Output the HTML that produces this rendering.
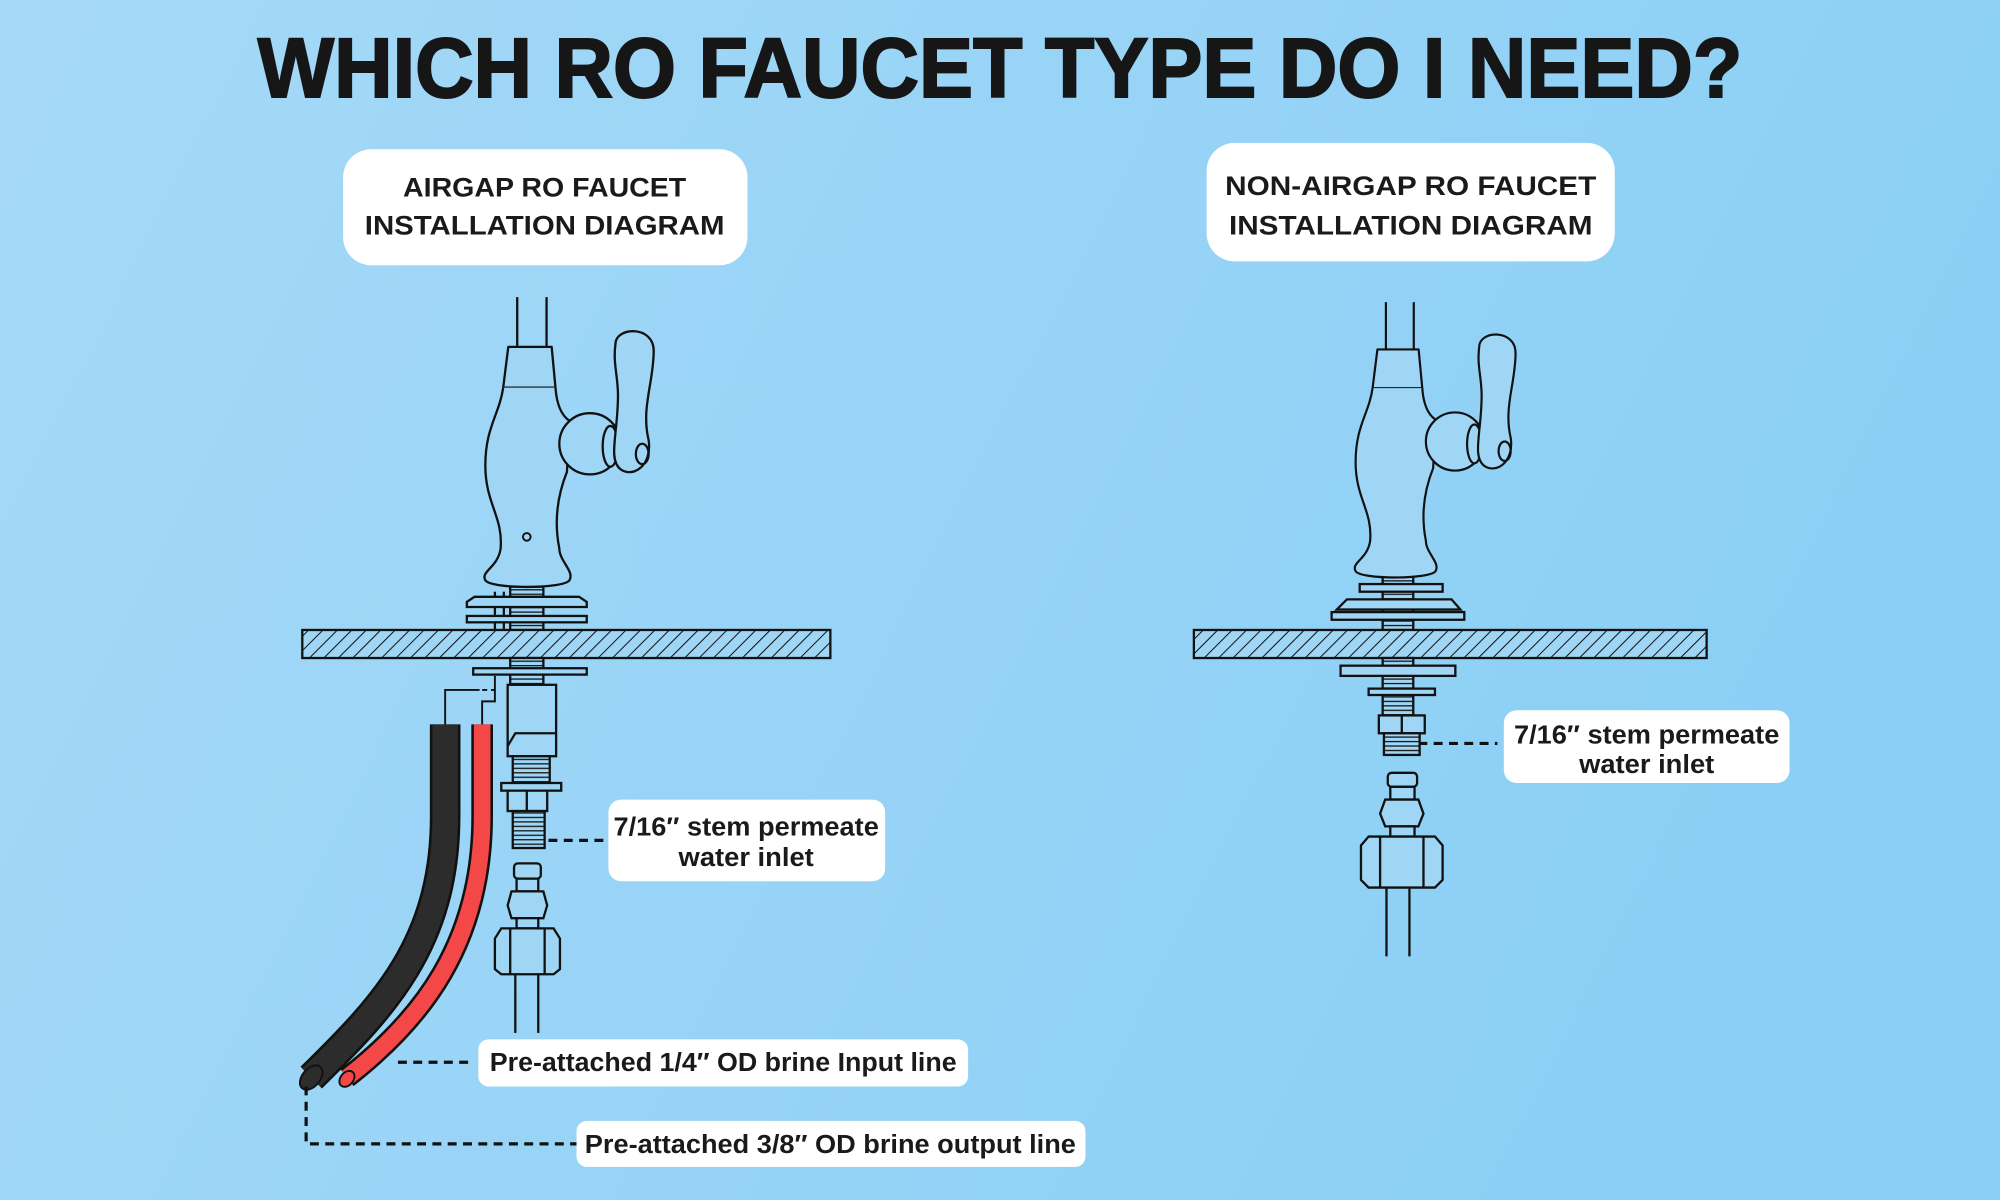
<!DOCTYPE html>
<html><head><meta charset="utf-8"><style>
html,body{margin:0;padding:0;width:2000px;height:1200px;overflow:hidden}
svg{display:block}
text{font-family:"Liberation Sans",sans-serif;fill:#1a1a1a}
</style></head><body>
<svg width="2000" height="1200" viewBox="0 0 1568 941" preserveAspectRatio="none" xmlns="http://www.w3.org/2000/svg">
<defs>
<linearGradient id="bg" x1="0" y1="0" x2="1" y2="0.3">
<stop offset="0" stop-color="#a6d9f7"/><stop offset="1" stop-color="#8bcff6"/></linearGradient>
<pattern id="hatch" width="8" height="8" patternUnits="userSpaceOnUse" patternTransform="rotate(45)">
<rect width="8" height="8" fill="#9fd6f5"/><line x1="0" y1="0" x2="0" y2="8" stroke="#111" stroke-width="1.6"/></pattern>
<pattern id="thr" width="4" height="3.5" patternUnits="userSpaceOnUse">
<rect width="4" height="3.5" fill="#9fd6f5"/><line x1="0" y1="0.5" x2="4" y2="0.5" stroke="#111" stroke-width="1"/></pattern>
<g id="top" fill="none" stroke="#111" stroke-width="1.8" stroke-linejoin="round">
<line x1="-11" y1="233" x2="-11" y2="272"/><line x1="12" y1="233" x2="12" y2="272"/>
<path d="M-18,272 L16,272 L19,304 L-22,304 Z" fill="#9fd6f5"/>
<path d="M-22,304 C-25,325 -36,335 -36,365 C-36,395 -22,405 -24,430 C-26,445 -40,448 -36,455 C-32,462 25,462 30,455 C34,448 22,440 22,430 C18,410 20,390 28,370 L30,330 C24,326 20,318 19,304" fill="#9fd6f5"/>
<circle cx="46" cy="348" r="24" fill="#9fd6f5"/>
<ellipse cx="62" cy="350" rx="6" ry="16" fill="#9fd6f5"/>
<path d="M66,270 C66,256 96,255 96,275 C96,300 86,320 92,345 C95,365 80,375 70,368 C60,360 68,340 68,310 C68,295 64,285 66,270 Z" fill="#9fd6f5"/>
<ellipse cx="87" cy="356" rx="5" ry="8"/>
</g>
</defs>
<rect width="1568" height="941" fill="url(#bg)"/>

<text x="784" y="76" text-anchor="middle" font-size="66" font-weight="bold" textLength="1164" lengthAdjust="spacingAndGlyphs" style="fill:#161616;stroke:#161616;stroke-width:1.5">WHICH RO FAUCET TYPE DO I NEED?</text>

<rect x="269" y="117" width="317" height="91" rx="22" fill="#fff"/>
<text x="427" y="154" text-anchor="middle" font-size="21" font-weight="bold" textLength="222" lengthAdjust="spacingAndGlyphs">AIRGAP RO FAUCET</text>
<text x="427" y="184" text-anchor="middle" font-size="21" font-weight="bold" textLength="282" lengthAdjust="spacingAndGlyphs">INSTALLATION DIAGRAM</text>
<rect x="946" y="112" width="320" height="93" rx="22" fill="#fff"/>
<text x="1106" y="153" text-anchor="middle" font-size="21" font-weight="bold" textLength="291" lengthAdjust="spacingAndGlyphs">NON-AIRGAP RO FAUCET</text>
<text x="1106" y="184" text-anchor="middle" font-size="21" font-weight="bold" textLength="285" lengthAdjust="spacingAndGlyphs">INSTALLATION DIAGRAM</text>

<!-- LEFT -->
<g stroke="#111" stroke-width="1.8" fill="#9fd6f5">
<rect x="400" y="460" width="26" height="34" fill="url(#thr)"/>
<line x1="388" y1="464" x2="388" y2="494"/><line x1="395" y1="464" x2="395" y2="494"/>
<path d="M372,468 L454,468 L460,472 L460,476 L366,476 L366,472 Z"/>
<rect x="366" y="483" width="94" height="5"/>
<rect x="237" y="494" width="414" height="22" fill="url(#hatch)"/>
<rect x="400" y="516" width="26" height="22" fill="url(#thr)"/>
<rect x="371" y="524" width="89" height="5"/>
<rect x="398" y="537" width="38" height="56"/>
<path d="M398,585 L404,575 L436,575"/>
<rect x="402" y="593" width="29" height="21" fill="url(#thr)"/>
<rect x="393" y="614" width="47" height="6"/>
<rect x="398" y="620" width="31" height="16"/><line x1="413" y1="620" x2="413" y2="636"/>
<rect x="402" y="636" width="25" height="29" fill="url(#thr)"/>
<rect x="403" y="677" width="21" height="12" rx="3"/>
<rect x="405" y="689" width="17" height="10"/>
<path d="M401,699 L426,699 L429,710 L426,720 L401,720 L398,710 Z"/>
<rect x="405" y="720" width="17" height="8"/>
<path d="M393,728 L434,728 L439,736 L439,760 L434,764 L393,764 L388,760 L388,736 Z"/>
<line x1="400" y1="728" x2="400" y2="764"/><line x1="427" y1="728" x2="427" y2="764"/>
<line x1="404" y1="764" x2="404" y2="810"/><line x1="422" y1="764" x2="422" y2="810"/>
</g>
<use href="#top" transform="translate(416.5,0)"/>
<circle cx="413" cy="421" r="3" fill="none" stroke="#111" stroke-width="1.5"/>
<path d="M349,568 L349,640 C349,740 300,790 244,845" fill="none" stroke="#111" stroke-width="24"/>
<path d="M349,568 L349,640 C349,740 300,790 244,845" fill="none" stroke="#2c2c2c" stroke-width="20"/>
<ellipse cx="244" cy="845" rx="7" ry="11" fill="#2c2c2c" stroke="#111" stroke-width="1.5" transform="rotate(40 244 845)"/>
<path d="M378,568 L378,640 C378,740 330,800 272,845" fill="none" stroke="#111" stroke-width="17"/>
<path d="M378,568 L378,640 C378,740 330,800 272,845" fill="none" stroke="#f44848" stroke-width="13"/>
<ellipse cx="272" cy="846" rx="5" ry="7" fill="#f44848" stroke="#111" stroke-width="1.5" transform="rotate(40 272 846)"/>
<g fill="none" stroke="#111" stroke-width="1.5">
<path d="M349,568 L349,541 L376,541"/><path d="M378,541 L388,541" stroke-dasharray="4 3"/>
<path d="M378,568 L378,550 L388,550 L388,530"/>
</g>
<g stroke="#111" stroke-width="2.5" stroke-dasharray="7 5" fill="none">
<line x1="430" y1="659" x2="477" y2="659"/>
<line x1="312" y1="833" x2="370" y2="833"/>
<path d="M240,852 L240,897 L452,897"/>
<line x1="1112" y1="583" x2="1174" y2="583"/>
</g>
<rect x="477" y="627" width="217" height="64" rx="10" fill="#fff"/>
<text x="585" y="655" text-anchor="middle" font-size="20" font-weight="bold" textLength="208" lengthAdjust="spacingAndGlyphs">7/16″ stem permeate</text>
<text x="585" y="679" text-anchor="middle" font-size="20" font-weight="bold" textLength="106" lengthAdjust="spacingAndGlyphs">water inlet</text>
<rect x="375" y="815" width="384" height="37" rx="8" fill="#fff"/>
<text x="567" y="840" text-anchor="middle" font-size="20" font-weight="bold" textLength="366" lengthAdjust="spacingAndGlyphs">Pre-attached 1/4″ OD brine Input line</text>
<rect x="452" y="879" width="399" height="36" rx="8" fill="#fff"/>
<text x="651" y="904" text-anchor="middle" font-size="20" font-weight="bold" textLength="385" lengthAdjust="spacingAndGlyphs">Pre-attached 3/8″ OD brine output line</text>

<!-- RIGHT -->
<g stroke="#111" stroke-width="1.8" fill="#9fd6f5">
<rect x="1084" y="452" width="24" height="42" fill="url(#thr)"/>
<rect x="1066" y="458" width="65" height="6"/>
<path d="M1056,470 L1138,470 L1145,478 L1048,478 Z"/>
<rect x="1044" y="480" width="104" height="6"/>
<rect x="936" y="494" width="402" height="22" fill="url(#hatch)"/>
<rect x="1084" y="516" width="24" height="45" fill="url(#thr)"/>
<rect x="1051" y="522" width="90" height="8"/>
<rect x="1073" y="540" width="52" height="5"/>
<rect x="1081" y="561" width="36" height="14"/><line x1="1099" y1="561" x2="1099" y2="575"/>
<rect x="1085" y="575" width="28" height="17" fill="url(#thr)"/>
<rect x="1088" y="606" width="23" height="11" rx="3"/>
<rect x="1090" y="617" width="19" height="10"/>
<path d="M1086,627 L1112,627 L1116,638 L1112,648 L1086,648 L1082,638 Z"/>
<rect x="1090" y="648" width="19" height="8"/>
<path d="M1073,656 L1125,656 L1131,663 L1131,690 L1125,696 L1073,696 L1067,690 L1067,663 Z"/>
<line x1="1082" y1="656" x2="1082" y2="696"/><line x1="1116" y1="656" x2="1116" y2="696"/>
<line x1="1087" y1="696" x2="1087" y2="750"/><line x1="1105" y1="696" x2="1105" y2="750"/>
</g>
<use href="#top" transform="translate(1097,15.6) scale(0.95)"/>
<rect x="1179" y="557" width="224" height="57" rx="10" fill="#fff"/>
<text x="1291" y="583" text-anchor="middle" font-size="20" font-weight="bold" textLength="208" lengthAdjust="spacingAndGlyphs">7/16″ stem permeate</text>
<text x="1291" y="606" text-anchor="middle" font-size="20" font-weight="bold" textLength="106" lengthAdjust="spacingAndGlyphs">water inlet</text>
</svg>
</body></html>
